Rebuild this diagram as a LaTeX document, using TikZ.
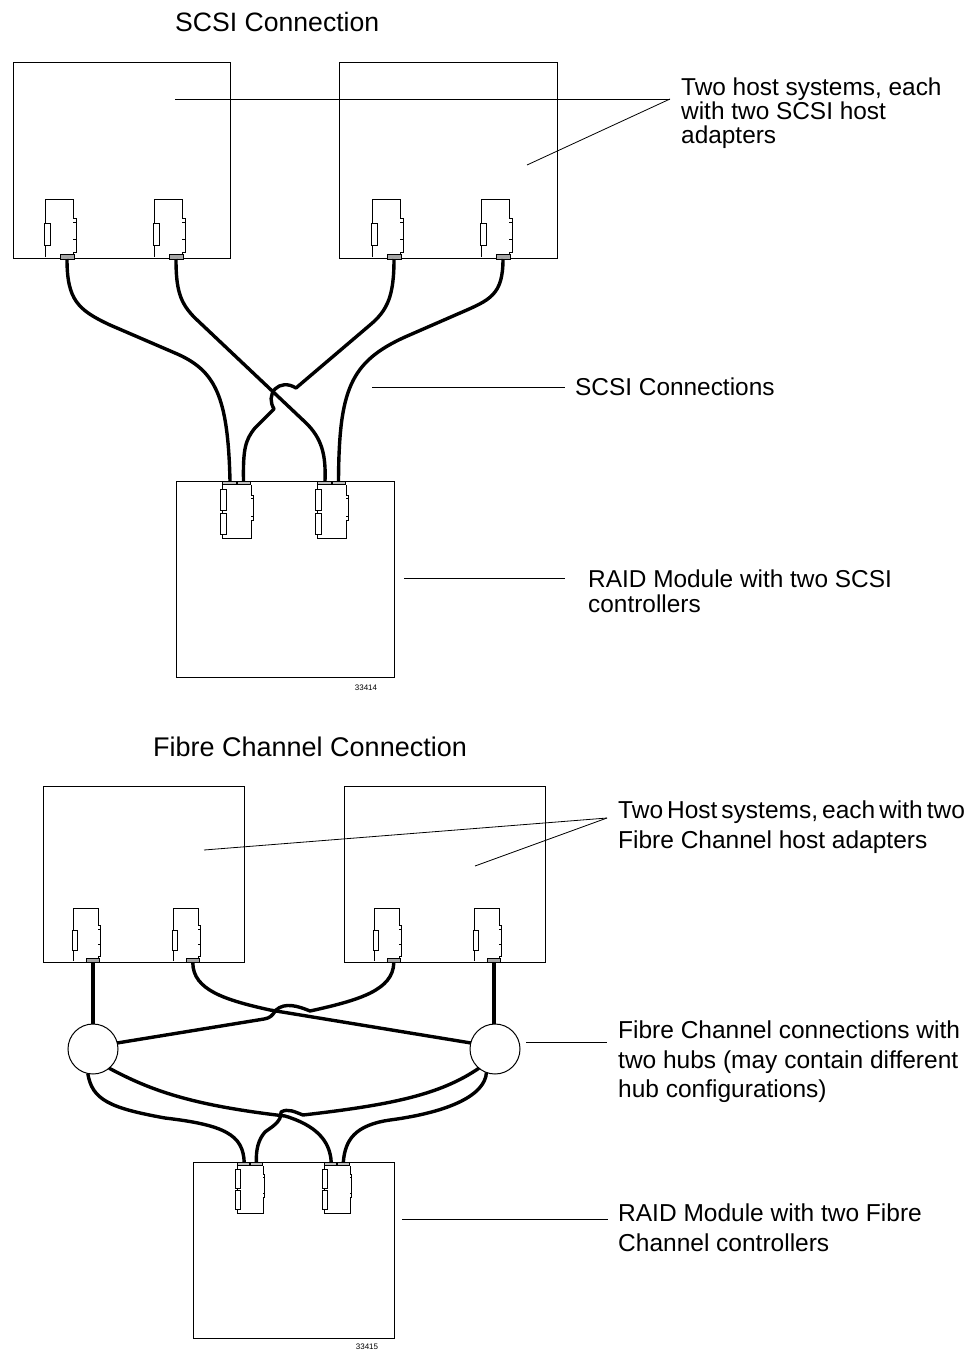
\documentclass[tikz,border=0pt]{standalone}
\usepackage{fontspec}
\setmainfont{Liberation Sans}
\usetikzlibrary{shapes,arrows,positioning,calc}

\begin{document}
\begin{tikzpicture}[
    x=1pt, y=-1pt,
    box/.style={rectangle, draw, line width=1pt, anchor=north west, inner sep=0pt, outer sep=0pt},
    hub/.style={circle, draw, line width=1pt, minimum size=50pt, inner sep=0pt, outer sep=0pt},
    cable/.style={line width=3.4pt, line join=round},
    leader/.style={line width=0.8pt},
    title/.style={font=\fontsize{26.6}{30}\selectfont, anchor=base west, inner sep=0pt},
    note/.style={font=\fontsize{24.4}{24.2}\selectfont, anchor=north west, inner sep=0pt, align=left},
    widenote/.style={font=\fontsize{24.5}{29.5}\selectfont, anchor=north west, inner sep=0pt, align=left},
    tag/.style={font=\fontsize{8}{8}\selectfont, inner sep=0pt},
    hostcard/.pic={
        \draw[line width=0.9pt] (0,0) -- (0,-58) -- (28,-58) -- (28,-39) -- (31,-39) -- (31,-5) -- (28,-5) -- (28,0);
        \draw[line width=1pt] (28,-35) -- (31,-35) (28,-18) -- (31,-18);
        \draw[line width=0.9pt, fill=white] (-1,-34) rectangle (5,-12);
        \draw[line width=0.8pt, fill=black!35] (15,-3) rectangle (29,2);
        \coordinate (-tip) at (22,2);
    },
    raidcard/.pic={
        \draw[line width=0.9pt] (0,0) -- (0,57) -- (29,57) -- (29,39) -- (31,39) -- (31,14) -- (29,14) -- (29,4);
        \draw[line width=1pt] (29,17) -- (31,17) (29,35) -- (31,35);
        \draw[line width=0.9pt, fill=white] (-2,8) rectangle (4,29);
        \draw[line width=0.9pt, fill=white] (-2,32) rectangle (4,53);
        \draw[line width=0.8pt, fill=black!25] (0,0) rectangle (14,3.5);
        \draw[line width=0.8pt, fill=black!25] (15,0) rectangle (28,3.5);
        \coordinate (-tipa) at (8,0);
        \coordinate (-tipb) at (21.5,0);
    }
]

%% ── SCSI part: boxes ─────────────────────────────────────────────
\node[title] (scsititle) at (175,31) {SCSI Connection};
\node[box, minimum width=217pt, minimum height=196pt] (hostA) at (13,62) {};
\node[box, minimum width=218pt, minimum height=196pt] (hostB) at (339,62) {};
\node[box, minimum width=218pt, minimum height=196pt] (raid)  at (176,481) {};
\node[tag] (tagA) at (366,688) {33414};

\pic (a1) at (45,257)  {hostcard};
\pic (a2) at (154,257) {hostcard};
\pic (a3) at (372,257) {hostcard};
\pic (a4) at (481,257) {hostcard};
\pic (ra) at (222,481) {raidcard};
\pic (rb) at (317,481) {raidcard};

%% ── SCSI part: cables ────────────────────────────────────────────
\draw[cable] (a1-tip) .. controls (67,300) and (78,310) .. (110,325) -- (175,353)
    .. controls (215,370) and (228,395) .. (ra-tipa);
\draw[cable] (a2-tip) .. controls (176,290) and (180,303) .. (195,318) -- (305,422)
    .. controls (322,438) and (326,455) .. (rb-tipa);
\draw[cable] (a3-tip) .. controls (394,295) and (388,310) .. (370,325) -- (296,388)
    .. controls (288,383) and (280,384) .. (275,389)
    .. controls (270,395) and (270,402) .. (274,409) -- (255,428)
    .. controls (245,440) and (243,450) .. (ra-tipb);
\draw[cable] (a4-tip) .. controls (503,295) and (490,300) .. (460,313) -- (405,337)
    .. controls (350,362) and (339,390) .. (rb-tipb);

%% ── SCSI part: notes ─────────────────────────────────────────────
\node[note] (hostnote) at (681,77.5) {Two host systems, each\\with two SCSI host\\adapters};
\node[note] (linknote) at (575,378) {SCSI Connections};
\node[note] (raidnote) at (588,570) {RAID Module with two SCSI\\controllers};
\coordinate (hostfork) at (670,99);
\coordinate (hostAin)  at (175,99);
\coordinate (hostBin)  at (527,165);
\coordinate (linkin)   at (372,387);
\coordinate (linkout)  at (565,387);
\coordinate (raidin)   at (404,578);
\coordinate (raidout)  at (565,578);
\draw[leader] (hostAin) -- (hostfork);
\draw[leader] (hostBin) -- (hostfork);
\draw[leader] (linkin) -- (linkout);
\draw[leader] (raidin) -- (raidout);

%% ── Fibre part: boxes ────────────────────────────────────────────
\node[title, font=\fontsize{27}{30}\selectfont] (fibretitle) at (153,756) {Fibre Channel Connection};
\node[box, minimum width=201pt, minimum height=176pt] (hostC) at (43,786) {};
\node[box, minimum width=201pt, minimum height=176pt] (hostD) at (344,786) {};
\node[box, minimum width=201pt, minimum height=176pt] (raidF) at (193,1162) {};
\node[tag] (tagB) at (367,1347) {33415};
\node[hub] (hubL) at (93,1049) {};
\node[hub] (hubR) at (495,1049) {};

\pic[scale=0.9] (c1) at (73,961)  {hostcard};
\pic[scale=0.9] (c2) at (173,961) {hostcard};
\pic[scale=0.9] (c3) at (374,961) {hostcard};
\pic[scale=0.9] (c4) at (474,961) {hostcard};
\pic[scale=0.9] (rc) at (237,1162) {raidcard};
\pic[scale=0.9] (rd) at (324,1162) {raidcard};

%% ── Fibre part: cables ───────────────────────────────────────────
\draw[cable] (c1-tip) -- (hubL.north -| c1-tip);
\draw[cable] (c4-tip) -- (hubR.north -| c4-tip);
\draw[cable] (c2-tip) .. controls (193,990) and (225,1000) .. (270,1010)
    -- (hubR.166);
\draw[cable] (c3-tip) .. controls (393,990) and (360,1000) .. (310,1011)
    .. controls (298,1006) and (285,1002) .. (276,1010)
    .. controls (272,1016) and (270,1018) .. (264,1019) -- (hubL.14);
\draw[cable] (hubL.-50) .. controls (150,1090) and (190,1105) .. (285,1116)
    .. controls (315,1125) and (330,1140) .. (rd-tipa);
\draw[cable] (hubL.-102) .. controls (92,1100) and (110,1108) .. (165,1118)
    .. controls (225,1125) and (243,1135) .. (rc-tipa);
\draw[cable] (hubR.230) .. controls (440,1095) and (390,1105) .. (303,1115)
    .. controls (295,1112) and (288,1108) .. (281,1112)
    .. controls (282,1122) and (270,1128) .. (265,1132)
    .. controls (258,1140) and (256,1150) .. (rc-tipb);
\draw[cable] (hubR.-110) .. controls (485,1095) and (450,1112) .. (390,1120)
    .. controls (355,1125) and (345,1140) .. (rd-tipb);

%% ── Fibre part: notes ────────────────────────────────────────────
\node[widenote] (fhostnote) at (618,801) {{\spaceskip=4pt Two Host systems, each with two}\\Fibre Channel host adapters};
\node[widenote] (flinknote) at (618,1021) {Fibre Channel connections with\\two hubs (may contain different\\hub configurations)};
\node[widenote] (fraidnote) at (618,1204) {RAID Module with two Fibre\\Channel controllers};
\coordinate (ffork) at (607,818);
\coordinate (fhostCin) at (204,850);
\coordinate (fhostDin) at (475,866);
\coordinate (flinkin)  at (526,1042);
\coordinate (flinkout) at (607,1042);
\coordinate (fraidin)  at (402,1219);
\coordinate (fraidout) at (608,1219);
\draw[leader] (fhostCin) -- (ffork);
\draw[leader] (fhostDin) -- (ffork);
\draw[leader] (flinkin) -- (flinkout);
\draw[leader] (fraidin) -- (fraidout);

\useasboundingbox (0,0) rectangle (969,1352);
\end{tikzpicture}
\end{document}
